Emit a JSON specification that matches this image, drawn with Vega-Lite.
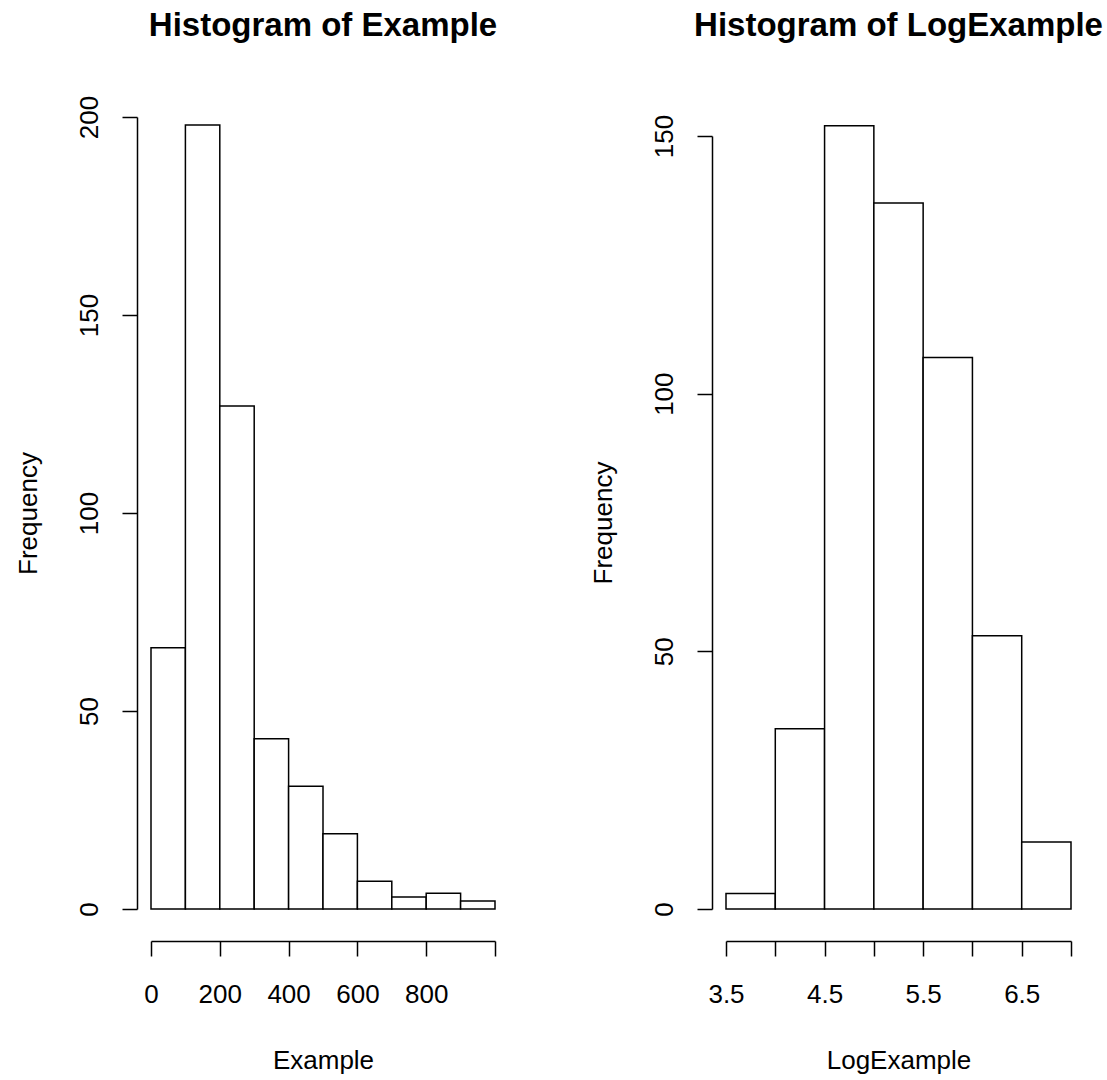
{
  "$schema": "https://vega.github.io/schema/vega-lite/v6.json",
  "background": "white",
  "padding": {"left": 15, "top": 10, "right": 5, "bottom": 5},
  "spacing": 92,
  "config": {
    "font": "Liberation Sans",
    "view": {"stroke": null},
    "axis": {
      "grid": false,
      "domainColor": "black",
      "domainWidth": 1.5,
      "tickColor": "black",
      "tickWidth": 1.5,
      "tickSize": 15,
      "labelFont": "Liberation Sans",
      "labelFontSize": 26,
      "labelColor": "black",
      "labelFlush": false,
      "labelOverlap": false,
      "titleFont": "Liberation Sans",
      "titleFontSize": 26,
      "titleFontWeight": "normal",
      "titleColor": "black"
    },
    "axisX": {"labelPadding": 25, "titlePadding": 40},
    "axisY": {"labelPadding": 20, "titlePadding": 35},
    "title": {"font": "Liberation Sans", "fontSize": 33, "fontWeight": "bold", "color": "black", "anchor": "middle", "baseline": "alphabetic"}
  },
  "datasets": {
    "example": [
      {"bin_start": 0, "bin_end": 100, "count": 66},
      {"bin_start": 100, "bin_end": 200, "count": 198},
      {"bin_start": 200, "bin_end": 300, "count": 127},
      {"bin_start": 300, "bin_end": 400, "count": 43},
      {"bin_start": 400, "bin_end": 500, "count": 31},
      {"bin_start": 500, "bin_end": 600, "count": 19},
      {"bin_start": 600, "bin_end": 700, "count": 7},
      {"bin_start": 700, "bin_end": 800, "count": 3},
      {"bin_start": 800, "bin_end": 900, "count": 4},
      {"bin_start": 900, "bin_end": 1000, "count": 2}
    ],
    "logexample": [
      {"bin_start": 3.5, "bin_end": 4.0, "count": 3},
      {"bin_start": 4.0, "bin_end": 4.5, "count": 35},
      {"bin_start": 4.5, "bin_end": 5.0, "count": 152},
      {"bin_start": 5.0, "bin_end": 5.5, "count": 137},
      {"bin_start": 5.5, "bin_end": 6.0, "count": 107},
      {"bin_start": 6.0, "bin_end": 6.5, "count": 53},
      {"bin_start": 6.5, "bin_end": 7.0, "count": 13}
    ]
  },
  "hconcat": [
    {
      "width": 344,
      "height": 792,
      "title": {"text": "Histogram of Example", "offset": 52},
      "data": {"name": "example"},
      "mark": {"type": "rect", "fill": "white", "stroke": "black", "strokeWidth": 1.5},
      "encoding": {
        "x": {
          "field": "bin_start", "type": "quantitative",
          "scale": {"domain": [0, 1000], "nice": false, "zero": false},
          "axis": {"title": "Example", "values": [0, 200, 400, 600, 800, 1000], "labelExpr": "datum.value == 1000 ? '' : datum.label", "offset": 32}
        },
        "x2": {"field": "bin_end"},
        "y": {
          "field": "count", "type": "quantitative",
          "scale": {"domain": [0, 200], "nice": false},
          "axis": {"title": "Frequency", "values": [0, 50, 100, 150, 200], "offset": 14, "labelAngle": -90}
        },
        "y2": {"datum": 0}
      }
    },
    {
      "width": 345,
      "height": 792,
      "title": {"text": "Histogram of LogExample", "offset": 71},
      "data": {"name": "logexample"},
      "mark": {"type": "rect", "fill": "white", "stroke": "black", "strokeWidth": 1.5},
      "encoding": {
        "x": {
          "field": "bin_start", "type": "quantitative",
          "scale": {"domain": [3.5, 7], "nice": false, "zero": false},
          "axis": {"title": "LogExample", "values": [3.5, 4, 4.5, 5, 5.5, 6, 6.5, 7], "labelExpr": "datum.value % 1 == 0 ? '' : datum.label", "offset": 32}
        },
        "x2": {"field": "bin_end"},
        "y": {
          "field": "count", "type": "quantitative",
          "scale": {"domain": [0, 150], "nice": false, "range": [792, 19]},
          "axis": {"title": "Frequency", "values": [0, 50, 100, 150], "offset": 14, "labelAngle": -90}
        },
        "y2": {"datum": 0}
      }
    }
  ]
}
